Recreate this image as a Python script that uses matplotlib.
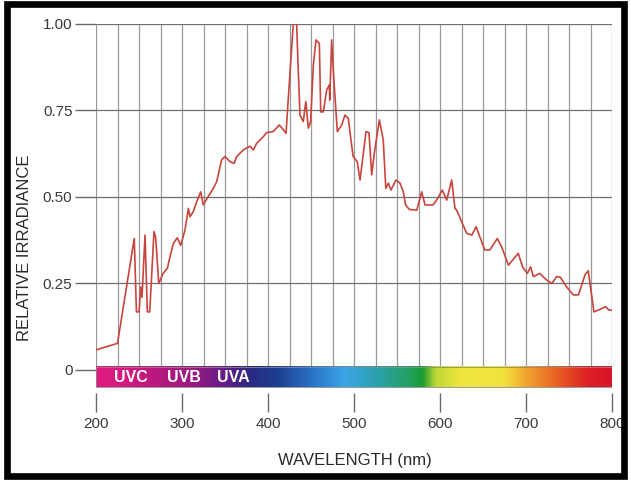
import numpy as np
import matplotlib
matplotlib.use("Agg")
import matplotlib.pyplot as plt
from matplotlib.colors import LinearSegmentedColormap
from matplotlib.patches import Rectangle

plt.rcParams['font.family'] = ['Liberation Sans', 'DejaVu Sans']

# irradiance curve
wavelength = [200, 225, 244.5, 247, 250, 252, 253.5, 257, 259.7, 262.5, 267.4, 269.3,
              273, 278, 283, 286, 290, 294.5, 298.5, 303.5, 307.4, 309.3, 313, 317.8,
              321.7, 324.8, 328, 336.4, 340.3, 346, 350, 355.8, 360.5, 363.6, 371.3,
              379, 383, 386.8, 394.5, 398.4, 406, 413, 418, 421, 423.6, 427.5, 429.4,
              433.3, 435, 437.2, 441, 444, 446.9, 449.6, 452.7, 455.8, 459.7, 461.3,
              464.3, 468.2, 471.3, 471.8, 474, 476, 477, 480.6, 485.7, 489.5, 493.4,
              496.2, 499, 503.8, 507, 510.8, 514, 517.4, 520.6, 523.6, 529.5, 534,
              537, 540, 543, 548.8, 553.5, 557.3, 560, 564.3, 573, 578.7, 582.6, 592,
              596, 602.7, 607.8, 613.6, 617.4, 619.4, 631, 637, 642, 652, 658, 666.6,
              671.7, 679.5, 684.5, 691, 696, 701.5, 705.4, 708.5, 716, 724, 730,
              735.7, 740, 747, 755, 761, 768.6, 772.4, 774.4, 779, 786, 792.6, 796.5,
              800]
irradiance = [0.058, 0.077, 0.38, 0.168, 0.168, 0.24, 0.21, 0.39, 0.168, 0.168, 0.40, 0.385,
              0.25, 0.279, 0.294, 0.327, 0.366, 0.382, 0.36, 0.405, 0.467, 0.443, 0.457, 0.491,
              0.515, 0.477, 0.491, 0.525, 0.544, 0.607, 0.617, 0.602, 0.597, 0.617, 0.636,
              0.647, 0.636, 0.655, 0.674, 0.686, 0.689, 0.708, 0.694, 0.684, 0.785, 0.929, 1.0,
              1.0, 0.88, 0.737, 0.718, 0.776, 0.699, 0.718, 0.881, 0.954, 0.944, 0.746,
              0.746, 0.809, 0.824, 0.78, 0.954, 0.862, 0.824, 0.689, 0.708, 0.737, 0.727,
              0.67, 0.617, 0.602, 0.549, 0.626, 0.689, 0.686, 0.564, 0.626, 0.723, 0.665,
              0.525, 0.54, 0.52, 0.549, 0.54, 0.515, 0.477, 0.464, 0.462, 0.515, 0.477, 0.477,
              0.491, 0.52, 0.491, 0.549, 0.467, 0.462, 0.395, 0.39, 0.414, 0.347, 0.347, 0.38,
              0.356, 0.303, 0.318, 0.337, 0.298, 0.279, 0.298, 0.27, 0.279, 0.26, 0.25,
              0.27, 0.268, 0.241, 0.217, 0.217, 0.275, 0.287, 0.25, 0.168, 0.175, 0.183, 0.173,
              0.173]

# spectrum bar colour stops
bar_wl = [200, 225, 270, 310, 345, 380, 410, 450, 490, 530, 565, 580, 595, 625, 675,
          700, 740, 775, 800]
bar_col = ['#e01c80', '#d81a80', '#b8197f', '#9a1a80', '#6a1a88', '#2a2a82', '#1c3e90',
           '#2a72c4', '#3aa6e6', '#2aa0a8', '#22a060', '#1a9a30', '#bcd636', '#f0e63e',
           '#f2e23e', '#f0a830', '#e85a22', '#dc1e26', '#d8142a']
band_names = ['UVC', 'UVB', 'UVA']
band_x = [240, 302, 360]

x_ticks = [200, 300, 400, 500, 600, 700, 800]
y_ticks = [0, 0.25, 0.50, 0.75, 1.00]
y_labels = ['0', '0.25', '0.50', '0.75', '1.00']
grid_x = np.arange(200, 801, 25)

fig = plt.figure(figsize=(6.31, 4.80), dpi=100)
ax = fig.add_axes([96 / 631, 1 - 393 / 480, 516 / 631, 369 / 480])
ax.set_xlim(200, 800)
ax.set_ylim(-0.0665, 1.0)

bar_top, bar_bot = 0.009, -0.049
ax.vlines(grid_x, bar_top, 1.0, colors='#9a9a9a', linewidth=0.9, zorder=1)
ax.hlines(y_ticks[1:], 200, 800, colors='#707070', linewidth=0.9, zorder=1)

ax.plot(wavelength, irradiance, color='#c9443c', linewidth=1.2, zorder=3)

stops = [(w - 200) / 600 for w in bar_wl]
cmap = LinearSegmentedColormap.from_list('spec', list(zip(stops, bar_col)))
ax.imshow(np.linspace(0, 1, 600).reshape(1, -1), cmap=cmap, aspect='auto',
          extent=[200, 800, bar_bot, bar_top], zorder=2)
ax.add_patch(Rectangle((200, bar_bot), 600, bar_top - bar_bot, fill=False,
                       edgecolor='#8a8a8a', linewidth=0.6, zorder=2))
for name, bx in zip(band_names, band_x):
    ax.text(bx, -0.021, name, color='white', fontsize=11.5, fontweight='bold',
            ha='center', va='center', zorder=4)

for s in ax.spines.values():
    s.set_visible(False)
ax.set_xticks(x_ticks)
ax.set_yticks(y_ticks)
ax.set_yticklabels(y_labels)
ax.tick_params(axis='x', direction='out', length=13.5, width=1.0, color='#6a6a6a',
               pad=4, labelsize=11, labelcolor='#3a3a3a')
ax.tick_params(axis='y', direction='out', length=15, width=1.0, color='#6a6a6a',
               pad=2, labelsize=11, labelcolor='#3a3a3a')

fig.text(355 / 631, 1 - 460 / 480, 'WAVELENGTH (nm)', ha='center', va='center',
         fontsize=12, color='#2a2a2a')
fig.text(25 / 631, 1 - 248 / 480, 'RELATIVE IRRADIANCE', ha='center', va='center',
         rotation=90, fontsize=12, color='#2a2a2a')

fig.patches.append(Rectangle((7 / 631, 4 / 480), 617 / 631, 472 / 480, fill=False,
                             edgecolor='black', linewidth=4.8,
                             transform=fig.transFigure, figure=fig))

fig.savefig('out.png', dpi=100)
